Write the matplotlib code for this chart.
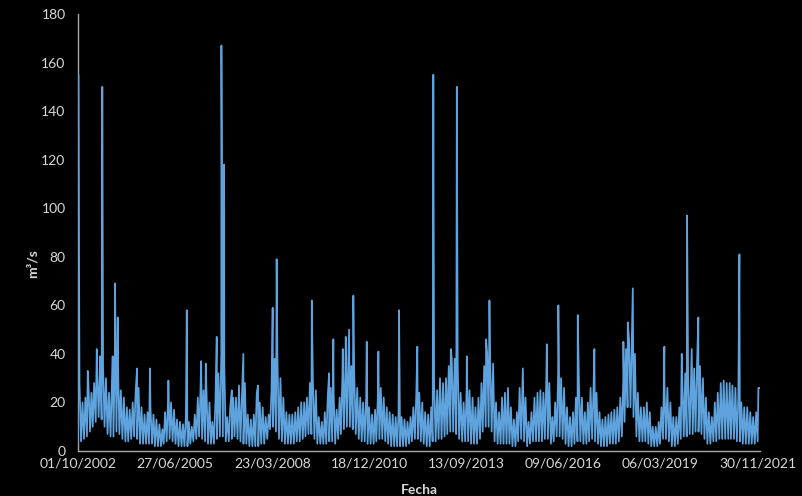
import numpy as np
import pandas as pd
import matplotlib
matplotlib.use('Agg')
from matplotlib import pyplot as plt

# Daily flow: a monthly envelope (upper / lower level of the
# dense band) plus the single-day peaks that stick out of it.
start = '2002-10-01'

band_high = [
    28, 20, 22, 28, 24, 28, 34, 35, 35, 30, 24, 30,   # 2002-03
    40, 38, 25, 22, 18, 17, 20, 24, 26, 18, 15, 16,   # 2003-04
    18, 15, 13, 11, 9, 16, 22, 20, 17, 13, 12, 11,    # 2004-05
    14, 12, 10, 15, 22, 26, 25, 25, 20, 12, 20, 32,   # 2005-06
    40, 35, 14, 18, 22, 22, 27, 22, 28, 15, 13, 15,   # 2006-07
    24, 20, 18, 14, 15, 25, 38, 38, 30, 22, 16, 15,   # 2007-08
    15, 16, 18, 20, 20, 22, 28, 30, 25, 14, 12, 16,   # 2008-09
    22, 26, 24, 17, 22, 30, 33, 35, 35, 32, 26, 22,   # 2009-10
    20, 22, 18, 15, 17, 22, 26, 22, 18, 16, 15, 14,   # 2010-11
    16, 14, 13, 12, 14, 18, 24, 24, 20, 16, 15, 18,   # 2011-12
    28, 25, 30, 28, 30, 35, 38, 38, 36, 24, 20, 26,   # 2012-13
    25, 22, 18, 22, 28, 35, 40, 40, 36, 20, 16, 22,   # 2013-14
    24, 26, 18, 13, 16, 26, 30, 22, 12, 16, 22, 24,   # 2014-15
    25, 24, 30, 28, 14, 20, 32, 30, 26, 18, 14, 16,   # 2015-16
    22, 28, 22, 16, 20, 26, 27, 24, 16, 13, 14, 15,   # 2016-17
    16, 17, 18, 22, 30, 42, 46, 48, 40, 24, 18, 18,   # 2017-18
    20, 16, 10, 10, 12, 18, 27, 26, 20, 14, 14, 18,   # 2018-19
    30, 32, 30, 33, 34, 35, 35, 30, 22, 16, 14, 20,   # 2019-20
    24, 28, 29, 28, 28, 27, 26, 22, 20, 18, 18, 16,   # 2020-21
    14, 16, 26,                                       # 2021
]

band_low = [
    3, 4, 5, 6, 8, 10, 12, 14, 13, 10, 7, 6,
    6, 8, 7, 5, 4, 4, 5, 6, 5, 3, 3, 3,
    3, 3, 2, 2, 2, 3, 4, 5, 4, 3, 2, 2,
    2, 2, 3, 4, 5, 6, 5, 4, 3, 3, 3, 5,
    6, 6, 4, 4, 5, 6, 5, 4, 3, 3, 2, 2,
    2, 2, 3, 3, 5, 9, 10, 8, 5, 4, 3, 3,
    3, 3, 4, 4, 5, 6, 7, 7, 5, 3, 3, 3,
    3, 4, 4, 3, 5, 7, 9, 10, 10, 9, 7, 5,
    4, 4, 3, 3, 3, 4, 5, 5, 4, 3, 2, 2,
    2, 2, 2, 2, 3, 4, 5, 5, 4, 3, 2, 2,
    4, 4, 5, 5, 6, 7, 8, 8, 7, 5, 4, 4,
    4, 3, 3, 3, 5, 8, 10, 10, 8, 4, 3, 3,
    3, 3, 3, 2, 2, 4, 5, 4, 2, 3, 4, 4,
    4, 4, 5, 5, 3, 4, 6, 6, 5, 3, 2, 2,
    3, 4, 4, 3, 3, 4, 5, 4, 3, 2, 2, 2,
    3, 3, 3, 4, 6, 12, 18, 18, 14, 6, 4, 4,
    4, 3, 2, 2, 2, 3, 5, 5, 4, 2, 2, 3,
    5, 6, 6, 7, 7, 8, 8, 7, 5, 3, 3, 4,
    4, 5, 5, 5, 5, 5, 5, 4, 4, 3, 3, 3,
    3, 3, 4,
]

peak_dates = [
    '2002-10-04', '2003-01-09', '2003-04-12', '2003-05-16', '2003-06-08',
    '2003-09-23', '2003-10-17', '2003-11-14', '2004-05-31', '2004-10-11',
    '2005-04-19', '2005-10-25', '2006-03-22', '2006-05-09', '2006-08-30',
    '2006-10-17', '2006-11-14', '2007-02-01', '2007-05-31', '2007-10-29',
    '2008-03-28', '2008-05-08', '2009-05-05', '2009-10-30', '2009-12-13',
    '2010-03-20', '2010-04-20', '2010-05-24', '2010-07-07', '2010-11-22',
    '2011-03-22', '2011-10-21', '2012-04-26', '2012-10-08', '2013-04-06',
    '2013-06-07', '2013-09-18', '2014-04-05', '2014-05-09', '2015-04-18',
    '2015-12-21', '2016-04-18', '2016-11-04', '2017-04-24', '2018-02-17',
    '2018-04-03', '2018-05-25', '2019-04-15', '2019-10-11', '2019-12-05',
    '2020-01-22', '2020-03-30', '2021-05-27', '2021-12-09',
]
peak_values = [
    155, 33, 42, 39, 150,
    39, 69, 55, 34, 34,
    29, 58, 37, 36, 47,
    167, 118, 25, 40, 27,
    59, 79, 62, 32, 46,
    42, 47, 50, 64, 45,
    41, 58, 43, 155, 42,
    150, 39, 46, 62, 34,
    44, 60, 56, 42, 45,
    53, 67, 43, 40, 97,
    42, 55, 81, 26,
]

tick_labels = ["01/10/2002", "27/06/2005", "23/03/2008", "18/12/2010",
               "13/09/2013", "09/06/2016", "06/03/2019", "30/11/2021"]

# build the series: low at the start of each month, high mid-month, plus peaks
months = pd.date_range(start, periods=len(band_high), freq='MS')
low_pts = pd.Series(band_low, index=months)
high_pts = pd.Series(band_high, index=months + pd.Timedelta(days=15))
peaks = pd.Series(peak_values, index=pd.to_datetime(peak_dates))
flow = pd.concat([low_pts, high_pts, peaks]).sort_index()

plt.rcParams['font.family'] = ['Lato', 'DejaVu Sans']

fig = plt.figure(figsize=(8.02, 4.96), dpi=100, facecolor='black')
ax = fig.add_axes([0.0973, 0.0907, 0.8503, 0.8811], facecolor='black')

ax.plot(flow.index, flow.values, color='#5fa3de', lw=1.25, zorder=3)

ax.set_xlim(pd.Timestamp(start), pd.Timestamp('2021-12-25'))
ax.set_ylim(0, 180)
ax.set_yticks(np.arange(0, 181, 20))
ax.set_xticks(pd.to_datetime(tick_labels, dayfirst=True))
ax.set_xticklabels(tick_labels)

ax.tick_params(length=0, colors='#d9d9d9', labelsize=10)
ax.tick_params(axis='y', pad=9)
ax.tick_params(axis='x', pad=5)

for s in ['top', 'right']:
    ax.spines[s].set_visible(False)
for s in ['left', 'bottom']:
    ax.spines[s].set_color('#a6a6a6')
    ax.spines[s].set_linewidth(1.0)

ax.set_ylabel('m³/s', color='#d9d9d9', fontsize=10, fontweight='bold')
ax.yaxis.set_label_coords(-0.058, 0.43)
ax.set_xlabel('Fecha', color='#d9d9d9', fontsize=10, fontweight='bold')
ax.xaxis.set_label_coords(0.5, -0.075)

plt.savefig('out.png', dpi=100, facecolor='black')
